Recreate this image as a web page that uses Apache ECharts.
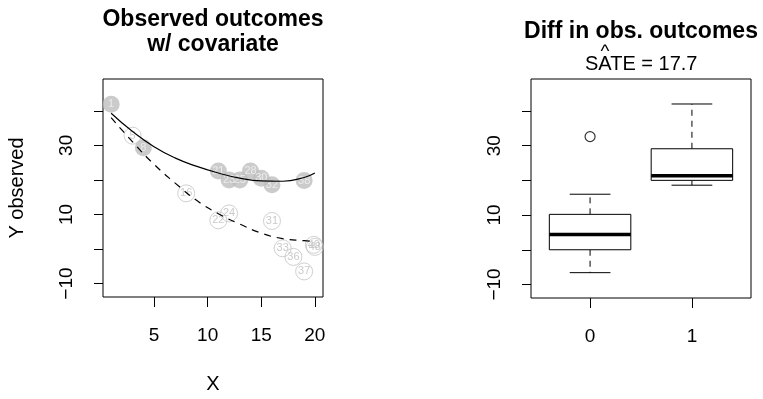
<!DOCTYPE html>
<html>
<head>
<meta charset="utf-8">
<script src="https://cdn.jsdelivr.net/npm/echarts@6/dist/echarts.min.js"></script>
<style>
  html, body { margin: 0; padding: 0; background: #fff; }
  #chart { width: 763px; height: 399px; }
</style>
</head>
<body>
<div id="chart"></div>
<script>
// treated units (filled grey)
const treatedX = [1, 4, 11, 12, 13, 14, 15, 16, 19];
const treatedY = [41.9, 29.3, 22.6, 20.0, 20.0, 22.6, 20.5, 18.6, 19.8];
const treatedId = ['1', '8', '21', '23', '25', '28', '30', '32', '38'];

// control units (open circles)
const controlX = [3, 8, 11, 12, 16, 17, 18, 19, 19.9, 20];
const controlY = [32.8, 16.1, 8.3, 10.3, 8.1, 0.2, -2.3, -6.5, 1.2, 0.6];
const controlId = ['5', '16', '22', '24', '31', '33', '36', '37', '40', '48'];

// fitted curves
const curveX = [1, 3, 5, 7, 9, 11, 13, 15, 17, 19, 20];
const solidY = [39.3, 34.0, 29.6, 26.3, 23.9, 22.0, 20.5, 19.7, 19.6, 20.7, 22.0];
const dashY = [38.0, 31.0, 24.5, 19.0, 14.0, 10.2, 7.2, 4.6, 3.0, 2.4, 2.2];

// boxplot stats: [position, min, q1, median, q3, max]
const boxGroups = ['0', '1'];
const boxStats = [
  [1, -6.6, 0.0, 4.4, 10.2, 16.0],
  [2, 18.6, 20.0, 21.3, 29.1, 42.0]
];
const boxOutliers = [[1, 32.6]];

const xTicks = [5, 10, 15, 20];
const yTicks = [-10, 0, 10, 20, 30, 40];
const yLabels = [-10, 10, 30];

const FONT = 'Liberation Sans, Arial, sans-serif';
const fmtNum = v => (v < 0 ? '\u2212' + Math.abs(v) : String(v));

const zip = (xs, ys, ids) => xs.map((x, i) => ids ? [x, ys[i], ids[i]] : [x, ys[i]]);

const chart = echarts.init(document.getElementById('chart'), null, { renderer: 'canvas' });

const yAxisBase = {
  type: 'value',
  min: -13.9,
  max: 49.2,
  axisLine: { show: false, onZero: false },
  splitLine: { show: false },
  axisTick: { show: true, length: 9, customValues: yTicks, lineStyle: { color: '#000' } },
  axisLabel: {
    customValues: yLabels,
    rotate: 90,
    margin: 27,
    color: '#000',
    fontFamily: FONT,
    fontSize: 19,
    formatter: fmtNum
  }
};

const xAxisBase = {
  type: 'value',
  axisLine: { show: false, onZero: false },
  splitLine: { show: false },
  axisTick: { show: true, length: 10, lineStyle: { color: '#000' } },
  axisLabel: { margin: 29, color: '#000', fontFamily: FONT, fontSize: 19 }
};

// custom boxplot drawing in R style
function renderBox(params, api) {
  const x = api.value(0);
  const lo = api.value(1), q1 = api.value(2), med = api.value(3), q3 = api.value(4), hi = api.value(5);
  const pL = api.coord([x - 0.4, q3]);
  const pR = api.coord([x + 0.4, q1]);
  const mL = api.coord([x - 0.4, med]);
  const mR = api.coord([x + 0.4, med]);
  const cL = api.coord([x - 0.2, lo]);
  const cR = api.coord([x + 0.2, lo]);
  const tL = api.coord([x - 0.2, hi]);
  const tR = api.coord([x + 0.2, hi]);
  const cx = api.coord([x, med])[0];
  const black = { stroke: '#000', lineWidth: 1, fill: null };
  const dashed = { stroke: '#000', lineWidth: 1, lineDash: [6, 5] };
  return {
    type: 'group',
    children: [
      { type: 'line', shape: { x1: cx, y1: pL[1], x2: cx, y2: tL[1] }, style: dashed },
      { type: 'line', shape: { x1: cx, y1: pR[1], x2: cx, y2: cL[1] }, style: dashed },
      { type: 'line', shape: { x1: tL[0], y1: tL[1], x2: tR[0], y2: tR[1] }, style: black },
      { type: 'line', shape: { x1: cL[0], y1: cL[1], x2: cR[0], y2: cR[1] }, style: black },
      { type: 'rect', shape: { x: pL[0], y: pL[1], width: pR[0] - pL[0], height: pR[1] - pL[1] },
        style: { stroke: '#000', lineWidth: 1, fill: '#fff' } },
      { type: 'line', shape: { x1: mL[0], y1: mL[1], x2: mR[0], y2: mR[1] }, style: { stroke: '#000', lineWidth: 3.5 } }
    ]
  };
}

const option = {
  backgroundColor: '#fff',
  animation: false,
  grid: [
    { left: 103, right: 440, top: 79, bottom: 101, show: true, borderColor: '#000', borderWidth: 1, backgroundColor: 'transparent' },
    { left: 531, right: 12, top: 79, bottom: 101, show: true, borderColor: '#000', borderWidth: 1, backgroundColor: 'transparent' }
  ],
  xAxis: [
    Object.assign({}, xAxisBase, {
      gridIndex: 0,
      min: 0.24,
      max: 20.76,
      name: 'X',
      nameLocation: 'middle',
      nameGap: 77,
      nameTextStyle: { color: '#000', fontFamily: FONT, fontSize: 20 },
      axisTick: Object.assign({}, xAxisBase.axisTick, { customValues: xTicks }),
      axisLabel: Object.assign({}, xAxisBase.axisLabel, { customValues: xTicks })
    }),
    Object.assign({}, xAxisBase, {
      gridIndex: 1,
      min: 0.42,
      max: 2.58,
      axisTick: Object.assign({}, xAxisBase.axisTick, { customValues: [1, 2] }),
      axisLabel: Object.assign({}, xAxisBase.axisLabel, {
        customValues: [1, 2],
        formatter: v => boxGroups[Math.round(v) - 1]
      })
    })
  ],
  yAxis: [
    Object.assign({}, yAxisBase, {
      gridIndex: 0,
      name: 'Y observed',
      nameLocation: 'middle',
      nameGap: 76,
      nameRotate: 90,
      nameTextStyle: { color: '#000', fontFamily: FONT, fontSize: 20 }
    }),
    Object.assign({}, yAxisBase, { gridIndex: 1 })
  ],
  graphic: [
    { type: 'text', x: 213, y: 20, style: { text: 'Observed outcomes', font: 'bold 23px ' + FONT, fill: '#000', textAlign: 'center', textVerticalAlign: 'middle' } },
    { type: 'text', x: 213, y: 45, style: { text: 'w/ covariate', font: 'bold 23px ' + FONT, fill: '#000', textAlign: 'center', textVerticalAlign: 'middle' } },
    { type: 'text', x: 641, y: 32, style: { text: 'Diff in obs. outcomes', font: 'bold 23px ' + FONT, fill: '#000', textAlign: 'center', textVerticalAlign: 'middle' } },
    { type: 'text', x: 585, y: 64, style: { text: 'SATE = 17.7', font: '20px ' + FONT, fill: '#000', textAlign: 'left', textVerticalAlign: 'middle' } },
    { type: 'text', x: 605, y: 52, style: { text: '^', font: '19px ' + FONT, fill: '#000', textAlign: 'center', textVerticalAlign: 'middle' } }
  ],
  series: [
    {
      type: 'scatter',
      xAxisIndex: 0, yAxisIndex: 0,
      data: zip(controlX, controlY, controlId),
      symbol: 'circle',
      symbolSize: 17,
      itemStyle: { color: 'rgba(255,255,255,0)', borderColor: '#c4c4c4', borderWidth: 1 },
      label: { show: true, position: 'inside', formatter: p => p.value[2], color: '#bdbdbd', fontFamily: FONT, fontSize: 11 },
      z: 2
    },
    {
      type: 'scatter',
      xAxisIndex: 0, yAxisIndex: 0,
      data: zip(treatedX, treatedY, treatedId),
      symbol: 'circle',
      symbolSize: 17,
      itemStyle: { color: '#bebebe' },
      label: { show: true, position: 'inside', formatter: p => p.value[2], color: '#f4f4f4', fontFamily: FONT, fontSize: 11 },
      z: 3
    },
    {
      type: 'line',
      xAxisIndex: 0, yAxisIndex: 0,
      data: zip(curveX, solidY),
      smooth: 0.5,
      showSymbol: false,
      lineStyle: { color: '#000', width: 1.2 },
      z: 5
    },
    {
      type: 'line',
      xAxisIndex: 0, yAxisIndex: 0,
      data: zip(curveX, dashY),
      smooth: 0.5,
      showSymbol: false,
      lineStyle: { color: '#000', width: 1.2, type: [7, 6] },
      z: 5
    },
    {
      type: 'custom',
      xAxisIndex: 1, yAxisIndex: 1,
      renderItem: renderBox,
      encode: { x: 0, y: [1, 2, 3, 4, 5] },
      data: boxStats,
      z: 3
    },
    {
      type: 'scatter',
      xAxisIndex: 1, yAxisIndex: 1,
      data: boxOutliers,
      symbol: 'circle',
      symbolSize: 10,
      itemStyle: { color: 'rgba(255,255,255,0)', borderColor: '#000', borderWidth: 1.2 },
      z: 10
    }
  ]
};

chart.setOption(option);
window.addEventListener('resize', () => chart.resize());
</script>
</body>
</html>
